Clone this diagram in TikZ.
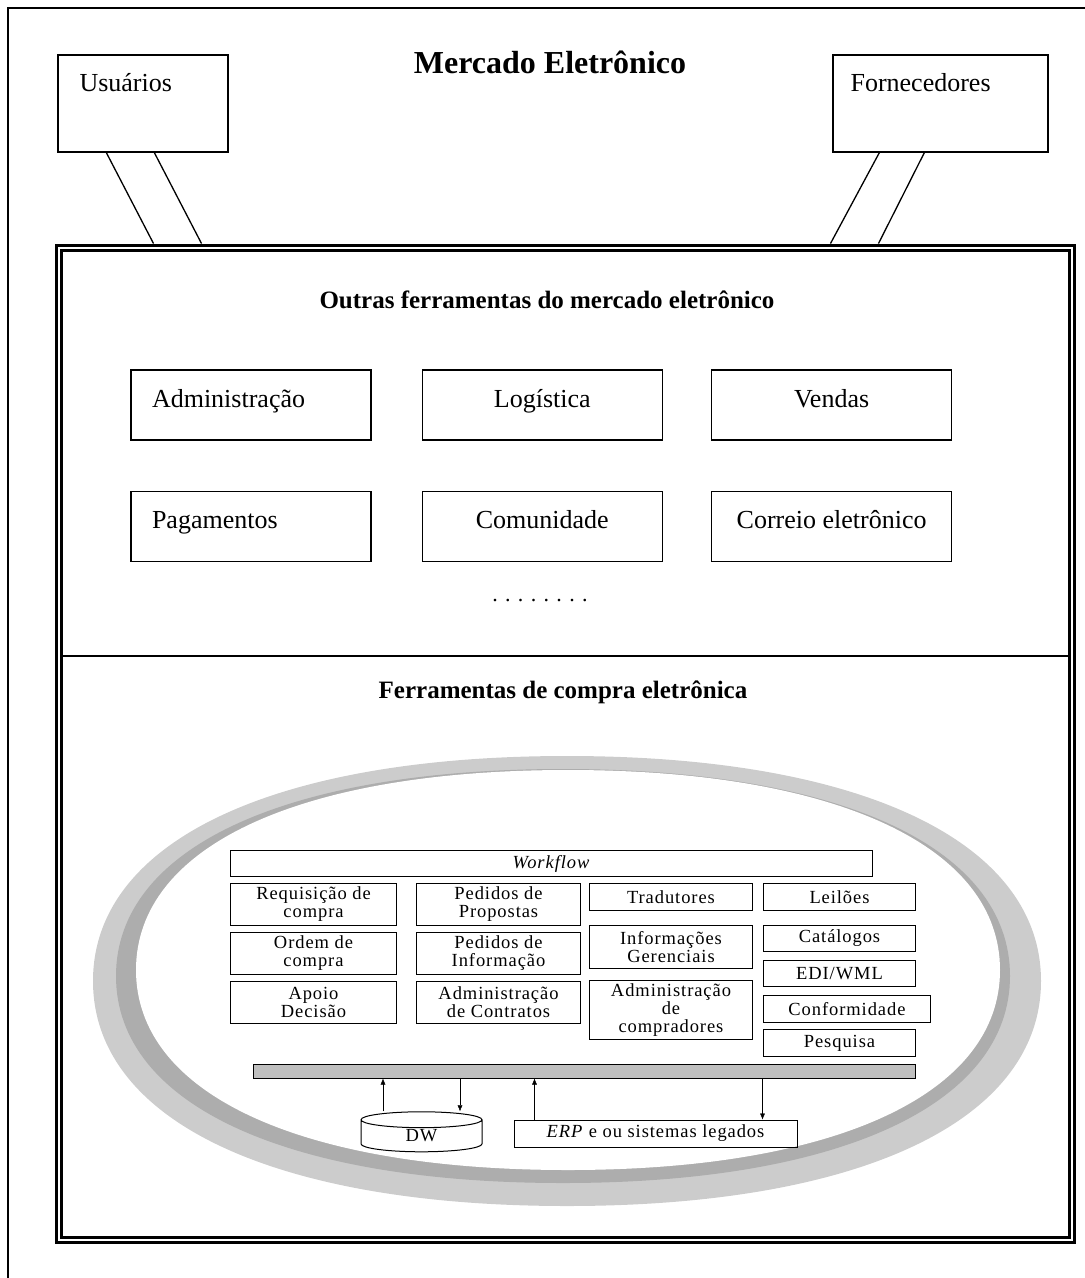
\documentclass[tikz,border=0pt]{standalone}
\usepackage{fontspec}
\setmainfont{Liberation Serif}
\newfontfamily\scanfont[LetterSpace=5]{Liberation Serif}
\usetikzlibrary{positioning,shapes.geometric,arrows.meta}
\definecolor{ringlight}{gray}{0.80}
\definecolor{ringdark}{gray}{0.68}
\definecolor{busgray}{gray}{0.75}
% rounded oval: centre x, centre y, x radius, y radius
\newcommand\ovalpath[4]{({#1+#3},#2)
  .. controls ({#1+#3},{#2+0.62*#4}) and ({#1+0.62*#3},{#2+#4}) .. (#1,{#2+#4})
  .. controls ({#1-0.62*#3},{#2+#4}) and ({#1-#3},{#2+0.62*#4}) .. ({#1-#3},#2)
  .. controls ({#1-#3},{#2-0.62*#4}) and ({#1-0.62*#3},{#2-#4}) .. (#1,{#2-#4})
  .. controls ({#1+0.62*#3},{#2-#4}) and ({#1+#3},{#2-0.62*#4}) .. cycle}
\tikzset{%
  >={Latex[width=5pt,length=6pt]},
  % Specifications for style of nodes:
       actor/.style = {rectangle, draw=black, line width=1.3pt,
                       minimum width=170, minimum height=97},
     bigtext/.style = {inner sep=0pt, font=\fontsize{26}{30}\selectfont},
     toolbox/.style = {rectangle, draw=black, line width=1.3pt,
                       minimum width=240, minimum height=70,
                       text height=18, text depth=14, align=center,
                       font=\fontsize{26}{30}\selectfont},
 toolboxleft/.style = {toolbox, text width=198, align=left},
       title/.style = {font=\bfseries\fontsize{25}{30}\selectfont},
        cell/.style = {rectangle, draw=black, line width=1pt, inner sep=0pt,
                       align=center, anchor=north west,
                       font=\scanfont\fontsize{18.5}{18}\selectfont},
}

\begin{document}
\begin{tikzpicture}[x=1pt, y=-1pt]
  \useasboundingbox (0,0) rectangle (1085,1278);
  % outer page frame
  \draw[line width=1.5pt] (1100,8) -- (8,8) -- (8,1290);

  % Specification of nodes (position, etc.)
  \node[font=\bfseries\fontsize{32}{36}\selectfont] (mercado) at (550,62) {Mercado Eletrônico};
  \node[actor] (usu) at (143,103.5) {};
  \node[bigtext, anchor=base west] (usutxt) at ([xshift=22,yshift=-37]usu.north west) {Usuários};
  \node[actor, minimum width=215] (forn) at (940.5,103.5) {};
  \node[bigtext, anchor=base west] (forntxt) at ([xshift=18,yshift=-37]forn.north west) {Fornecedores};

  \node[draw, line width=3pt, double, double distance=2pt, inner sep=0pt,
        minimum width=1013, minimum height=992] (frame) at (565,743.5) {};
  \draw[line width=1.5pt] (62.5,656) -- (1067.5,656);

  % lines between the actors and the market
  \draw[line width=1.3pt] ([xshift=49]usu.south west) -- ([xshift=96.5,yshift=2.5]frame.north west);
  \draw[line width=1.3pt] ([xshift=97]usu.south west) -- ([xshift=144.5,yshift=2.5]frame.north west);
  \draw[line width=1.3pt] ([xshift=47]forn.south west) -- ([xshift=773.5,yshift=2.5]frame.north west);
  \draw[line width=1.3pt] ([xshift=92]forn.south west) -- ([xshift=821.5,yshift=2.5]frame.north west);

  % other tools of the market
  \node[title] (outras) at (547,300) {Outras ferramentas do mercado eletrônico};
  \node[toolboxleft] (adm) at (251,405) {Administração};
  \node[toolbox, right=50pt of adm] (log) {Logística};
  \node[toolbox, right=48pt of log] (ven) {Vendas};
  \node[toolboxleft, below=50pt of adm] (pag) {Pagamentos};
  \node[toolbox, below=50pt of log] (com) {Comunidade};
  \node[toolbox, below=50pt of ven] (cor) {Correio eletrônico};
  \node[font=\fontsize{22}{24}\selectfont] (dots) at (540,601) {. . . . . . . .};

  % purchase tools
  \node[title] (compra) at (563,692) {Ferramentas de compra eletrônica};
  \fill[ringlight] \ovalpath{567}{981}{474}{225};
  \fill[ringdark] \ovalpath{563}{976}{447}{207};
  \fill[white] \ovalpath{568}{970}{432}{200};

  \node[cell, minimum width=642, minimum height=26] (wf) at (230,850) {\textit{Workflow}};
  \node[cell, minimum width=166, minimum height=42] (req) at (230,883) {Requisição de\\compra};
  \node[cell, minimum width=166, minimum height=42] (ord) at (230,932) {Ordem de\\compra};
  \node[cell, minimum width=166, minimum height=42] (apo) at (230,981) {Apoio\\Decisão};
  \node[cell, minimum width=164, minimum height=42] (ppr) at (416,883) {Pedidos de\\Propostas};
  \node[cell, minimum width=164, minimum height=42] (pin) at (416,932) {Pedidos de\\Informação};
  \node[cell, minimum width=164, minimum height=42] (adc) at (416,981) {Administração\\de Contratos};
  \node[cell, minimum width=163, minimum height=27] (trad) at (589,883) {Tradutores};
  \node[cell, minimum width=163, minimum height=43] (infg) at (589,925) {Informações\\Gerenciais};
  \node[cell, minimum width=163, minimum height=59] (admc) at (589,980) {Administração\\de\\compradores};
  \node[cell, minimum width=152, minimum height=27] (lei) at (763,883) {Leilões};
  \node[cell, minimum width=152, minimum height=26] (cat) at (763,925) {Catálogos};
  \node[cell, minimum width=152, minimum height=26] (edi) at (763,960) {EDI/WML};
  \node[cell, minimum width=167, minimum height=27] (conf) at (763,995) {Conformidade};
  \node[cell, minimum width=152, minimum height=27] (pes) at (763,1029) {Pesquisa};

  \node[cell, anchor=center, fill=busgray, minimum width=662, minimum height=14] (bus) at (584,1071) {};
  \node[cell, anchor=center, cylinder, shape border rotate=90, aspect=0.5,
        minimum width=121, minimum height=40] (dw) at (421.5,1136) {DW};
  \node[cell, anchor=center, minimum width=283, minimum height=27] (erp) at (655.5,1133.5) {\textit{ERP} e ou sistemas legados};

  % connections with the bus
  \draw[->] ([xshift=-38.5]dw.north) -- ([xshift=-38.5]dw.north |- bus.south);
  \draw[->] ([xshift=38.5]dw.north |- bus.south) -- ([xshift=38.5]dw.north);
  \draw[->] ([xshift=21]erp.north west) -- ([xshift=21]erp.north west |- bus.south);
  \draw[->] ([xshift=249]erp.north west |- bus.south) -- ([xshift=249]erp.north west);
\end{tikzpicture}
\end{document}
